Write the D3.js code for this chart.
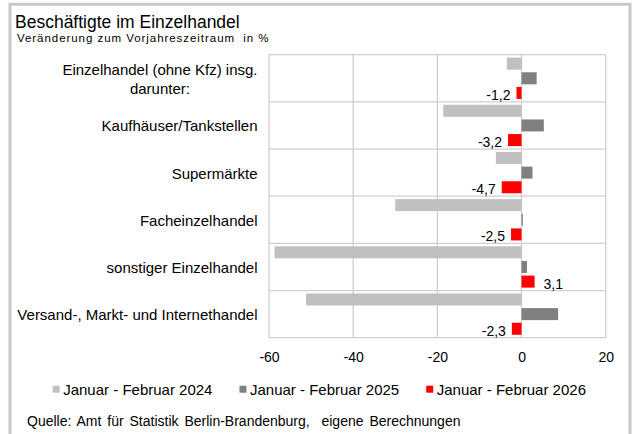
<!DOCTYPE html>
<html>
<head>
<meta charset="utf-8">
<script src="https://cdn.jsdelivr.net/npm/d3@7"></script>
<style>
  body { margin: 0; background: #fff; }
  svg text { font-family: "Liberation Sans", Arial, sans-serif; fill: #000; }
</style>
</head>
<body>
<div id="vis"></div>
<script>
const W = 634, H = 434;
const margin = { top: 54.7, right: 28.3, bottom: 96.3, left: 269 };
const width = W - margin.left - margin.right;
const height = H - margin.top - margin.bottom;

// data
const categories = [
  ["Einzelhandel (ohne Kfz) insg.", "darunter:"],
  ["Kaufhäuser/Tankstellen"],
  ["Supermärkte"],
  ["Facheinzelhandel"],
  ["sonstiger Einzelhandel"],
  ["Versand-, Markt- und Internethandel"]
];
const seriesNames = ["Januar - Februar 2024", "Januar - Februar 2025", "Januar - Februar 2026"];
const colors = ["#c0c0c0", "#808080", "#ff0000"];
const v2024 = [-3.5, -18.6, -6.1, -30.0, -58.7, -51.2];
const v2025 = [3.6, 5.3, 2.6, 0.3, 1.3, 8.7];
const v2026 = [-1.2, -3.2, -4.7, -2.5, 3.1, -2.3];
const xTicks = [-60, -40, -20, 0, 20];
const title = "Beschäftigte im Einzelhandel";
const subtitle = "Veränderung zum Vorjahreszeitraum  in %";
const source = "Quelle: Amt für Statistik Berlin-Brandenburg,  eigene Berechnungen";

const series = [v2024, v2025, v2026];
const fmt = v => d3.format(".1f")(v).replace(".", ",").replace("\u2212", "-");

const root = d3.select('#vis')
  .append('svg')
  .attr('width', W)
  .attr('height', H);

// outer frame
root.append('rect')
  .attr('x', 10).attr('y', 4.3)
  .attr('width', 620).attr('height', 460)
  .attr('fill', 'none')
  .attr('stroke', '#c8c8c8')
  .attr('stroke-width', 3);

root.append('text')
  .attr('x', 15).attr('y', 28)
  .style('font-size', '17.5px')
  .text(title);

root.append('text')
  .attr('x', 17).attr('y', 42)
  .style('font-size', '11.5px')
  .style('letter-spacing', '0.95px')
  .attr('xml:space', 'preserve')
  .text(subtitle);

const svg = root.append('g')
  .attr('transform', `translate(${margin.left},${margin.top})`);

const xScale = d3.scaleLinear().domain([-60, 20]).range([0, width]);
const yScale = d3.scaleBand().domain(d3.range(categories.length)).range([0, height]);
const ySub = d3.scaleBand().domain(d3.range(series.length))
  .range([0, yScale.bandwidth()]).paddingInner(0.18).paddingOuter(0.2);

// grid
svg.selectAll('.vgrid')
  .data(xTicks)
  .join('line')
  .attr('class', 'vgrid')
  .attr('x1', d => xScale(d)).attr('x2', d => xScale(d))
  .attr('y1', 0).attr('y2', height)
  .attr('stroke', '#cfcfcf').attr('stroke-width', 1.3);

svg.selectAll('.hgrid')
  .data(d3.range(categories.length + 1))
  .join('line')
  .attr('class', 'hgrid')
  .attr('x1', 0).attr('x2', width)
  .attr('y1', d => d * yScale.step()).attr('y2', d => d * yScale.step())
  .attr('stroke', '#cfcfcf').attr('stroke-width', 1.3);

// bars
series.forEach((vals, s) => {
  svg.selectAll('.bar' + s)
    .data(vals)
    .join('rect')
    .attr('class', 'bar' + s)
    .attr('x', d => xScale(Math.min(0, d)))
    .attr('width', d => Math.abs(xScale(d) - xScale(0)))
    .attr('y', (d, i) => yScale(i) + ySub(s))
    .attr('height', ySub.bandwidth())
    .attr('fill', colors[s]);
});

// labels for latest series
svg.selectAll('.vlabel')
  .data(v2026)
  .join('text')
  .attr('class', 'vlabel')
  .attr('x', d => d < 0 ? xScale(d) - 6 : xScale(d) + 9)
  .attr('y', (d, i) => yScale(i) + ySub(2) + ySub.bandwidth() / 2 + 7)
  .attr('text-anchor', d => d < 0 ? 'end' : 'start')
  .style('font-size', '14px')
  .text(fmt);

// x axis
const xAxis = d3.axisBottom(xScale).tickValues(xTicks).tickSize(0).tickPadding(14)
  .tickFormat(d => String(d));
const gx = svg.append('g')
  .attr('transform', `translate(0,${height})`)
  .call(xAxis);
gx.select('.domain').remove();
gx.selectAll('text')
  .style('font-size', '14px')
  .style('font-family', '"Liberation Sans", Arial, sans-serif')
  .attr('fill', '#000');

// category labels
const catG = svg.selectAll('.cat')
  .data(categories)
  .join('text')
  .attr('class', 'cat')
  .style('font-size', '15px')
  .attr('text-anchor', 'middle');

catG.each(function(lines, i) {
  const t = d3.select(this);
  const cy = yScale(i) + yScale.bandwidth() / 2;
  const lh = 19;
  const y0 = cy + 6 - (lines.length - 1) * lh / 2;
  lines.forEach((ln, j) => {
    t.append('tspan').attr('x', 0).attr('y', y0 + j * lh).text(ln);
  });
  // right edge aligned at left of plot
  const w = this.getBBox().width;
  t.selectAll('tspan').attr('x', -11.5 - w / 2);
});

// legend
const leg = root.append('g');
let lx = 52.7;
seriesNames.forEach((name, s) => {
  leg.append('rect')
    .attr('x', lx).attr('y', 385.7)
    .attr('width', 7).attr('height', 7)
    .attr('fill', colors[s]);
  const txt = leg.append('text')
    .attr('x', lx + 10.5).attr('y', 394.7)
    .style('font-size', '15px')
    .text(name);
  lx += 10.5 + txt.node().getComputedTextLength() + 27;
});

root.append('text')
  .attr('x', 27).attr('y', 425.5)
  .style('font-size', '14px')
  .style('word-spacing', '2px')
  .attr('xml:space', 'preserve')
  .text(source);
</script>
</body>
</html>
